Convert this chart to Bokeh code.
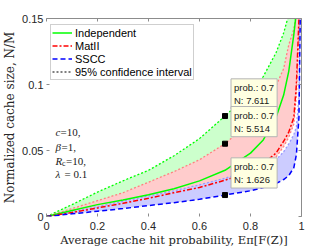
import math
from bokeh.plotting import figure
from bokeh.models import Label, LinearAxis, FixedTicker, Legend, LegendItem, Range1d
from bokeh.embed import file_html
from bokeh.resources import INLINE

# ---- data ----
prob = [0, 0.1, 0.2, 0.3, 0.4, 0.5, 0.6, 0.7, 0.8, 0.85, 0.9, 0.93, 0.95, 0.97, 0.98, 0.99, 0.995, 0.999]
indep_mean = [0, 0.0045, 0.009, 0.0125, 0.0165, 0.021, 0.027, 0.035, 0.048, 0.058, 0.075, 0.092, 0.11, 0.138, 0.155, 0.19, 0.22, 0.3]
indep_hi = [0, 0.009, 0.0185, 0.027, 0.035, 0.046, 0.059, 0.07611, 0.094, 0.106, 0.124, 0.139, 0.153, 0.175, 0.19, 0.21, 0.23, 0.3]
indep_lo = [0, 0.003, 0.006, 0.009, 0.012, 0.016, 0.020, 0.026, 0.036, 0.045, 0.058, 0.072, 0.088, 0.112, 0.13, 0.16, 0.2, 0.3]
matii_mean = [0, 0.003, 0.0065, 0.010, 0.0138, 0.018, 0.022, 0.0275, 0.034, 0.040, 0.048, 0.057, 0.064, 0.075, 0.10, 0.15, 0.2, 0.3]
matii_hi = [0, 0.006, 0.012, 0.018, 0.026, 0.034, 0.043, 0.05514, 0.072, 0.083, 0.099, 0.112, 0.13, 0.142, 0.155, 0.2, 0.22, 0.3]
matii_lo = [0, 0.0027, 0.006, 0.009, 0.0125, 0.0163, 0.020, 0.025, 0.031, 0.037, 0.045, 0.053, 0.060, 0.070, 0.092, 0.14, 0.19, 0.3]
sscc_mean = [0, 0.002, 0.004, 0.006, 0.0083, 0.0105, 0.013, 0.01626, 0.0195, 0.022, 0.025, 0.028, 0.031, 0.037, 0.047, 0.075, 0.15, 0.3]
sscc_hi = [0, 0.0035, 0.0075, 0.0115, 0.0155, 0.0195, 0.024, 0.029, 0.035, 0.038, 0.043, 0.049, 0.055, 0.062, 0.068, 0.09, 0.16, 0.3]
sscc_lo = [0, 0.002, 0.004, 0.006, 0.0083, 0.0105, 0.013, 0.01626, 0.0195, 0.022, 0.025, 0.028, 0.031, 0.037, 0.047, 0.075, 0.15, 0.3]

tip_x = [0.7, 0.7, 0.7]
tip_y = [0.07611, 0.05514, 0.01626]
tip_text = ["prob.: 0.7\nN: 7.611", "prob.: 0.7\nN: 5.514", "prob.: 0.7\nN: 1.626"]

x_ticks = [0, 0.2, 0.4, 0.6, 0.8, 1]
x_tick_labels = ["0", "0.2", "0.4", "0.6", "0.8", "1"]
y_ticks = [0, 0.05, 0.1, 0.15]
y_tick_labels = ["0", "0.05", "0.1", "0.15"]

series_names = ["Independent", "MatII", "SSCC", "95% confidence interval"]
x_title = "Average cache hit probability, Eπ[F(Z)]"
y_title = "Normalized cache size, N/M"

# ---- figure ----
p = figure(width=316, height=249, output_backend="svg", toolbar_location=None,
           x_range=Range1d(0, 1), y_range=Range1d(0, 0.15),
           min_border_left=43, min_border_right=15, min_border_top=18, min_border_bottom=33)
p.outline_line_color = None
p.xgrid.visible = False
p.ygrid.visible = False
p.background_fill_color = "white"
p.border_fill_color = "white"

TICK_COL = "#8c8c8c"
LAB_COL = "#262626"
for ax, ticks, labels in [(p.xaxis[0], x_ticks, x_tick_labels), (p.yaxis[0], y_ticks, y_tick_labels)]:
    ax.ticker = FixedTicker(ticks=ticks)
    ax.major_label_overrides = {t: l for t, l in zip(ticks, labels)}
    ax.axis_line_color = None
    ax.major_tick_in = 3
    ax.major_tick_out = 0
    ax.minor_tick_line_color = None
    ax.major_tick_line_color = TICK_COL
    ax.major_label_text_font = "Liberation Sans"
    ax.major_label_text_font_size = "11px"
    ax.major_label_text_color = LAB_COL
    ax.axis_label_text_font = "DejaVu Serif"
    ax.axis_label_text_font_style = "normal"
    ax.axis_label_text_color = LAB_COL
p.xaxis.major_label_standoff = 5
p.yaxis.major_label_standoff = 3
p.xaxis.axis_label = x_title
p.xaxis.axis_label_text_font_size = "11.5px"
p.xaxis.axis_label_standoff = 0
p.yaxis.axis_label = y_title
p.yaxis.axis_label_text_font_size = "12px"
p.yaxis.axis_label_standoff = 2

for loc, ticks in [("above", x_ticks), ("right", y_ticks)]:
    ax = LinearAxis(ticker=FixedTicker(ticks=ticks), major_label_text_font_size="2px",
                    major_label_text_color=None, major_label_standoff=0,
                    axis_line_color=TICK_COL, major_tick_in=3, major_tick_out=0,
                    minor_tick_line_color=None, major_tick_line_color=TICK_COL)
    p.add_layout(ax, loc)

# ---- fills and lines ----
p.varea(x=prob, y1=indep_lo, y2=indep_hi, fill_color="#ccffcc")
p.line(prob, indep_hi, line_color="#00ff00", line_width=1.3, line_dash="2 2")
p.line(prob, indep_lo, line_color="#00ff00", line_width=1.3, line_dash="2 2")
p.varea(x=prob, y1=matii_lo, y2=matii_hi, fill_color="#ffcccc")
p.line(prob, matii_hi, line_color="#ff8080", line_width=1.3, line_dash="2 2")
p.line(prob, matii_lo, line_color="#ff8080", line_width=1.3, line_dash="2 2")
p.varea(x=prob, y1=sscc_lo, y2=sscc_hi, fill_color="#ccccff")
p.line(prob, sscc_hi, line_color="#9999ff", line_width=1.3, line_dash="2 2")

r_ind = p.line(prob, indep_mean, line_color="#00ff00", line_width=1.5)
r_mat = p.line(prob, matii_mean, line_color="#ff0000", line_width=1.5, line_dash="5 2 2 2")
r_ss = p.line(prob, sscc_mean, line_color="#0000ff", line_width=1.5, line_dash="5 3")
r_ci = p.line([0.5], [float("nan")], line_color="black", line_width=1.2, line_dash="2 2")

p.scatter(tip_x, tip_y, marker="square", size=5, fill_color="black", line_color="black")

for tx, ty, tt in zip(tip_x, tip_y, tip_text):
    p.add_layout(Label(x=tx, y=ty, x_offset=6, y_offset=7, text=tt,
                       text_font="Liberation Sans", text_font_size="9.5px", text_color="#1a1a1a",
                       text_align="left", text_baseline="bottom", text_line_height=1.2,
                       background_fill_color="#ffffe1", border_line_color="#b4b4b4",
                       padding=3))

legend = Legend(items=[LegendItem(label=series_names[0], renderers=[r_ind]),
                       LegendItem(label=series_names[1], renderers=[r_mat]),
                       LegendItem(label=series_names[2], renderers=[r_ss]),
                       LegendItem(label=series_names[3], renderers=[r_ci])],
                location=(4, 136), margin=0, padding=1, spacing=0,
                label_height=13, glyph_height=13, glyph_width=20, label_standoff=3,
                label_text_font="Liberation Sans", label_text_font_size="11px",
                label_text_color="black", border_line_color="#a0a0a0", border_line_width=1,
                background_fill_color="white", background_fill_alpha=1)
p.add_layout(legend)

# ---- annotation texts ----
SERIF = "Liberation Serif"
ann_x = 0.035
ann_rows = [0.0638, 0.0524, 0.0423, 0.0322]
def lab(x, y, t, size="11px", style="normal", xo=0, yo=0):
    p.add_layout(Label(x=x, y=y, text=t, x_offset=xo, y_offset=yo, text_font=SERIF,
                       text_font_size=size, text_font_style=style, text_align="left",
                       text_baseline="middle", text_color="#1a1a1a"))

lab(ann_x, ann_rows[0], "c", style="italic")
lab(ann_x, ann_rows[0], "=10,", xo=5)
lab(ann_x, ann_rows[1], "β", style="italic")
lab(ann_x, ann_rows[1], "=1,", xo=6)
lab(ann_x, ann_rows[2], "R", style="italic")
lab(ann_x, ann_rows[2], "c", size="8px", xo=6.5, yo=-3)
lab(ann_x, ann_rows[2], "=10,", xo=10.5)
lab(ann_x, ann_rows[3], "λ", style="italic")
lab(ann_x, ann_rows[3], "= 0.1", xo=9)

open("out.html", "w").write(file_html(p, INLINE))
